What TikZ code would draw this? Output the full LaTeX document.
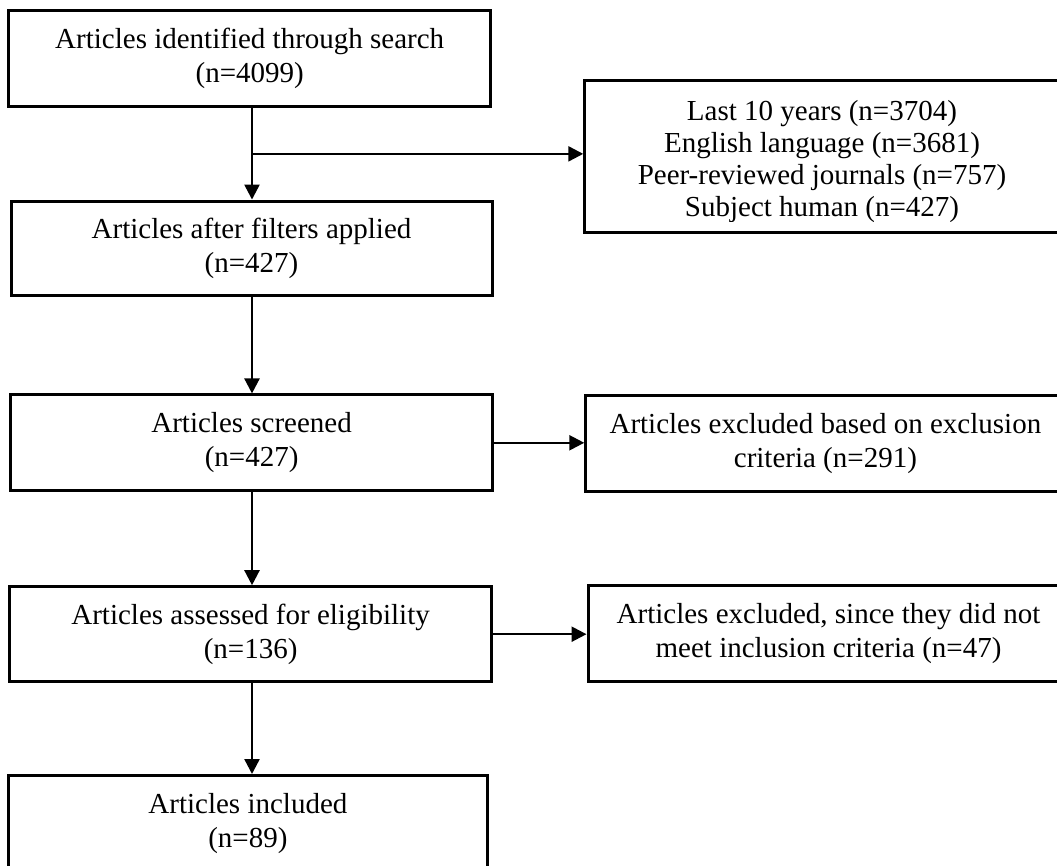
\documentclass[tikz,border=0pt]{standalone}
\usepackage{fontspec}
\setmainfont{Liberation Serif}
\usetikzlibrary{arrows.meta,calc}
\begin{document}
\begin{tikzpicture}[x=1pt,y=-1pt,
  box/.style={draw, line width=3pt, inner sep=0pt, align=center, font=\fontsize{29}{34}\selectfont},
  rbox/.style={box, font=\fontsize{29}{33.5}\selectfont},
  arr/.style={line width=2.4pt, -{Triangle[length=15pt,width=15pt]}},
]
\useasboundingbox (0,0) rectangle (1057,866);
% left column
\node[box, minimum width=482pt, minimum height=96pt] (b1) at (249.7,58.7) {Articles identified through search\\(n=4099)};
\node[box, minimum width=481pt, minimum height=94.7pt] (b2) at (251.5,248.4) {Articles after filters applied\\(n=427)};
\node[box, minimum width=481.3pt, minimum height=95.7pt] (b3) at (251.6,442.8) {Articles screened\\(n=427)};
\node[box, minimum width=481.3pt, minimum height=95pt] (b4) at (250.6,634.2) {Articles assessed for eligibility\\(n=136)};
\node[box, minimum width=479.2pt, minimum height=96pt] (b5) at (247.9,823.5) {Articles included\\(n=89)};
% right column
\node[box, minimum width=474.3pt, minimum height=152pt] (r1) at (821.9,156.7) {};
\begin{scope}
  \clip (586,82) rectangle (1057,221.7);
  \node[align=center, inner sep=0pt, font=\fontsize{29}{32}\selectfont] (r1t) at (822,162) {Last 10 years (n=3704)\\English language (n=3681)\\Peer-reviewed journals (n=757)\\Subject human (n=427)};
\end{scope}
\node[rbox, minimum width=479.3pt, minimum height=96.7pt] (r2) at (825.4,443.4) {Articles excluded based on exclusion\\criteria (n=291)};
\node[rbox, minimum width=481pt, minimum height=95.3pt] (r3) at (828.5,633.4) {Articles excluded, since they did not\\meet inclusion criteria (n=47)};
% connectors
\coordinate (sp) at (252,0);
\draw[arr] (b1.south -| sp) -- (b2.north -| sp);
\coordinate (j) at ($(b1.south -| sp)!0.5!(b2.north -| sp)$);
\draw[arr] (j) -- (j -| r1.west);
\draw[arr] (b2.south -| sp) -- (b3.north -| sp);
\draw[arr] (b3.east) -- (b3.east -| r2.west);
\draw[arr] (b3.south -| sp) -- (b4.north -| sp);
\draw[arr] (b4.east) -- (b4.east -| r3.west);
\draw[arr] (b4.south -| sp) -- (b5.north -| sp);
\end{tikzpicture}
\end{document}
